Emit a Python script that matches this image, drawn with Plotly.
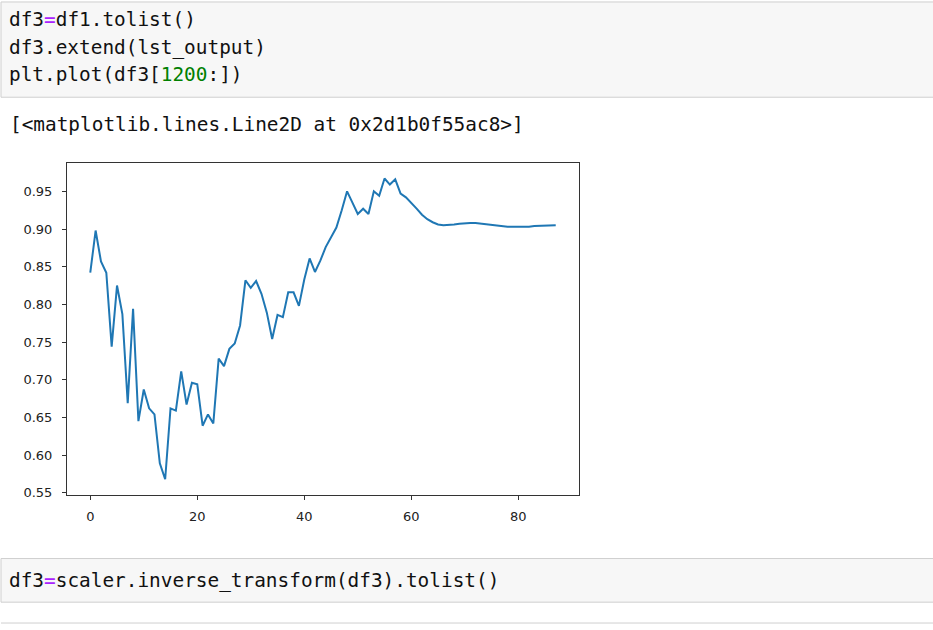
import plotly.graph_objects as go

# ---- data ----
series_values = [
    0.842, 0.898, 0.857, 0.842, 0.744, 0.825, 0.787, 0.669, 0.794, 0.645,
    0.687, 0.662, 0.654, 0.589, 0.568, 0.662, 0.659, 0.711, 0.667, 0.696,
    0.694, 0.639, 0.654, 0.642, 0.728, 0.718, 0.741, 0.748, 0.772, 0.832,
    0.822, 0.831, 0.814, 0.789, 0.754, 0.786, 0.783, 0.816, 0.816, 0.798,
    0.833, 0.861, 0.843, 0.858, 0.876, 0.890, 0.902, 0.925, 0.950, 0.935,
    0.920, 0.927, 0.920, 0.950, 0.944, 0.967, 0.959, 0.966, 0.947, 0.942,
    0.935, 0.927, 0.919, 0.913, 0.909, 0.906, 0.905, 0.905, 0.906, 0.907,
    0.908, 0.908, 0.908, 0.907, 0.906, 0.905, 0.904, 0.903, 0.903, 0.903,
    0.903, 0.903, 0.903, 0.904, 0.904, 0.904, 0.905, 0.905,
]
x_index = list(range(len(series_values)))

x_tick_values = [0, 20, 40, 60, 80]
y_tick_values = [0.55, 0.60, 0.65, 0.70, 0.75, 0.80, 0.85, 0.90, 0.95]

code_lines_top = [
    'df3<span style="color:#aa22ff">=</span>df1.tolist()',
    'df3.extend(lst_output)',
    'plt.plot(df3[<span style="color:#008000">1200</span>:])',
]
output_line = '[&lt;matplotlib.lines.Line2D at 0x2d1b0f55ac8&gt;]'
code_line_bottom = 'df3<span style="color:#aa22ff">=</span>scaler.inverse_transform(df3).tolist()'

W, H = 933, 630

def px(xp):
    return xp / W

def py(yp):
    return 1 - yp / H

fig = go.Figure()
fig.add_trace(go.Scatter(
    x=x_index, y=series_values, mode="lines",
    line=dict(color="#1f77b4", width=2),
    hoverinfo="skip", showlegend=False,
))

axis_font = dict(family="DejaVu Sans", size=13, color="#222")
fig.update_layout(
    width=W, height=H,
    margin=dict(l=0, r=0, t=0, b=0),
    paper_bgcolor="white", plot_bgcolor="white",
    xaxis=dict(
        domain=[px(67), px(579)], range=[-4.35, 91.35],
        tickvals=x_tick_values, ticks="outside", ticklen=4, tickcolor="#333",
        showline=True, linecolor="#333", linewidth=1, mirror=True,
        showgrid=False, zeroline=False, tickfont=axis_font,
        ticklabelstandoff=5, anchor="y",
    ),
    yaxis=dict(
        domain=[py(499), py(164)], range=[0.547, 0.988],
        tickvals=y_tick_values, tickformat=".2f",
        ticks="outside", ticklen=4, tickcolor="#333",
        showline=True, linecolor="#333", linewidth=1, mirror=True,
        showgrid=False, zeroline=False, tickfont=axis_font,
        ticklabelstandoff=7, anchor="x",
    ),
)

# notebook cells
shapes = [
    dict(type="rect", xref="paper", yref="paper",
         x0=px(1), x1=px(940), y0=py(98), y1=py(2),
         fillcolor="#f7f7f7", line=dict(color="#cfcfcf", width=1), layer="below"),
    dict(type="rect", xref="paper", yref="paper",
         x0=px(1), x1=px(940), y0=py(607), y1=py(563),
         fillcolor="#f7f7f7", line=dict(color="#cfcfcf", width=1), layer="below"),
    dict(type="line", xref="paper", yref="paper",
         x0=px(1), x1=px(940), y0=py(628), y1=py(628),
         line=dict(color="#cfcfcf", width=1)),
]
fig.update_layout(shapes=shapes)

code_font = dict(family="DejaVu Sans Mono", size=19.4, color="#111")
for txt, yc in zip(code_lines_top, [20, 48, 75]):
    fig.add_annotation(text=txt, xref="paper", yref="paper", x=px(7), y=py(yc),
                       xanchor="left", yanchor="middle", showarrow=False, font=code_font)
fig.add_annotation(text=output_line, xref="paper", yref="paper", x=px(8), y=py(125),
                   xanchor="left", yanchor="middle", showarrow=False, font=code_font)
fig.add_annotation(text=code_line_bottom, xref="paper", yref="paper", x=px(7), y=py(585),
                   xanchor="left", yanchor="middle", showarrow=False, font=code_font)

fig.write_html(
    "out.html",
    config={"displayModeBar": False},
    post_script=(
        "document.documentElement.style.margin='0';"
        "document.body.style.margin='0';"
        "document.body.style.overflow='hidden';"
    ),
)
